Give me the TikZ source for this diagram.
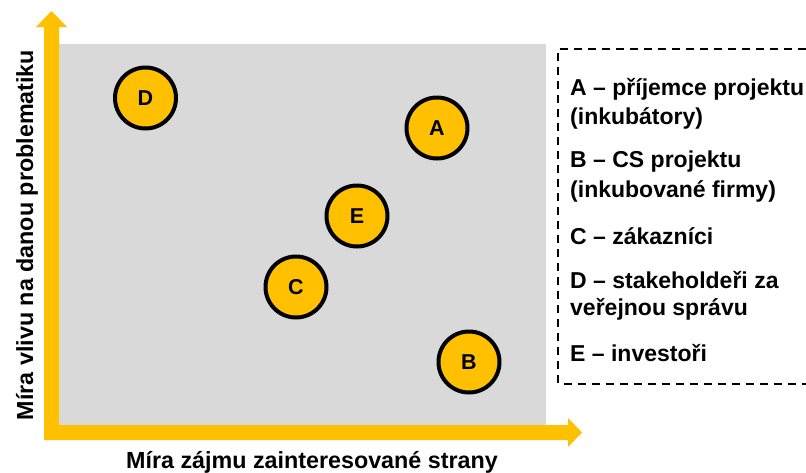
\documentclass[tikz,border=0pt]{standalone}
\usepackage{fontspec}
\setmainfont{Liberation Sans}
\definecolor{axisyellow}{HTML}{FFC000}
\definecolor{plotgray}{HTML}{D9D9D9}
\begin{document}
\begin{tikzpicture}[x=1pt,y=-1pt,
  stake/.style={circle,draw=black,line width=4pt,fill=axisyellow,minimum size=61pt,inner sep=0pt,font=\bfseries\fontsize{21.5}{25}\selectfont},
  legtext/.style={anchor=west,inner sep=0pt,font=\bfseries\fontsize{23}{28}\selectfont},
  axlabel/.style={inner sep=0pt,font=\bfseries\fontsize{23.3}{28}\selectfont}]
\useasboundingbox (0,0) rectangle (806,472);
% plot area
\fill[plotgray] (59,44) rectangle (545.5,425);
% axes
\fill[axisyellow] (44,440) -- (44,27) -- (36,27) -- (51.5,11) -- (67,27) -- (59,27) -- (59,425)
  -- (568,425) -- (568,418) -- (582,432.5) -- (568,447) -- (568,440) -- cycle;
% stakeholders
\node[stake] (D) at (145.5,98) {D};
\node[stake] (A) at (437,128) {A};
\node[stake] (E) at (357,216) {E};
\node[stake] (C) at (296,287) {C};
\node[stake] (B) at (469,362) {B};
% axis labels
\node[axlabel] (xlab) at (312,462) {Míra zájmu zainteresované strany};
\node[axlabel,rotate=90] (ylab) at (27,235) {Míra vlivu na danou problematiku};
% legend
\draw[line width=2pt,dash pattern=on 8pt off 6pt] (820,49) -- (558,49) -- (558,383.5) -- (820,383.5);
\node[legtext] (la1) at (570,89) {A – příjemce projektu};
\node[legtext] (la2) at (570,118) {(inkubátory)};
\node[legtext] (lb1) at (570,162) {B – CS projektu};
\node[legtext] (lb2) at (570,191) {(inkubované firmy)};
\node[legtext] (lc) at (570,236) {C – zákazníci};
\node[legtext] (ld1) at (570,280) {D – stakeholdeři za};
\node[legtext] (ld2) at (570,309) {veřejnou správu};
\node[legtext] (le) at (570,353) {E – investoři};
\end{tikzpicture}
\end{document}
